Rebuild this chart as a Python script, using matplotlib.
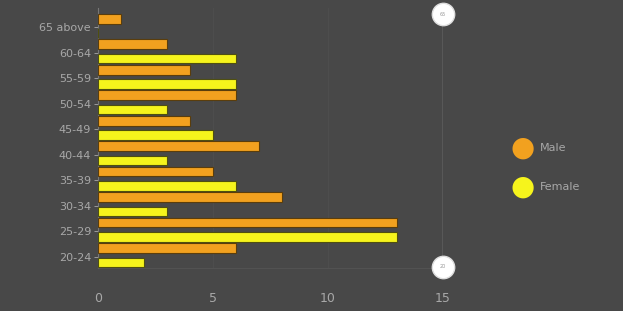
import matplotlib
matplotlib.use('Agg')
import matplotlib.pyplot as plt
import numpy as np

# age groups, bottom to top
ages = ['20-24', '25-29', '30-34', '35-39', '40-44', '45-49', '50-54', '55-59', '60-64', '65 above']
male = [6, 13, 8, 5, 7, 4, 6, 4, 3, 1]
female = [2, 13, 3, 6, 3, 5, 3, 6, 6, 0]
x_ticks = [0, 5, 10, 15]

bg = '#484848'
orange = '#F2A11F'
yellow = '#F6F41C'
txt = '#a8a8a8'

fig = plt.figure(figsize=(6.23, 3.11), dpi=100)
fig.patch.set_facecolor(bg)
ax = fig.add_axes([98/623, 43/311, 345/623, 260/311])
ax.set_facecolor(bg)

y = np.arange(len(ages))
h = 0.38
ax.barh(y + 0.28, male, height=h, color=orange, edgecolor='#5a3d0c', linewidth=0.8, zorder=3, label='Male')
ax.barh(y - 0.28, female, height=h, color=yellow, edgecolor='#4f4f10', linewidth=0.8, zorder=3, label='Female')

ax.set_xlim(0, 15)
ax.set_ylim(-0.5, 9.7)
ax.set_xticks(x_ticks)
ax.set_yticks(y - 0.05)
ax.set_yticklabels(ages)
ax.tick_params(axis='x', colors=txt, labelsize=9, length=0, pad=17)
ax.tick_params(axis='y', colors=txt, labelsize=8, length=3, width=0.6, pad=2)
for lab in ax.get_xticklabels() + ax.get_yticklabels():
    lab.set_color(txt)

ax.grid(axis='x', color='#4f4f4f', linewidth=0.6, zorder=0)
for s in ['top', 'right']:
    ax.spines[s].set_visible(False)
ax.spines['left'].set_color('#777777')
ax.spines['left'].set_linewidth(0.8)
ax.spines['bottom'].set_color('#555555')
ax.spines['bottom'].set_linewidth(0.6)

# slider on the right
ax.axvline(15, color='#5c5c5c', linewidth=1.2, zorder=1)
ax.scatter([15, 15], [9.45, -0.45], s=260, color='white', edgecolor='#dddddd', zorder=5, clip_on=False)
ax.text(15, 9.45, '65', fontsize=3.5, color='#999999', ha='center', va='center', zorder=6)
ax.text(15, -0.45, '20', fontsize=3.5, color='#999999', ha='center', va='center', zorder=6)

# legend
fig.text(523/623, 1 - 148/311, '\u25cf', color=orange, fontsize=20, ha='center', va='center')
fig.text(523/623, 1 - 187/311, '\u25cf', color=yellow, fontsize=20, ha='center', va='center')
fig.text(540/623, 1 - 148/311, 'Male', color=txt, fontsize=8, ha='left', va='center')
fig.text(540/623, 1 - 187/311, 'Female', color=txt, fontsize=8, ha='left', va='center')

fig.savefig('out.png', dpi=100, facecolor=bg)
